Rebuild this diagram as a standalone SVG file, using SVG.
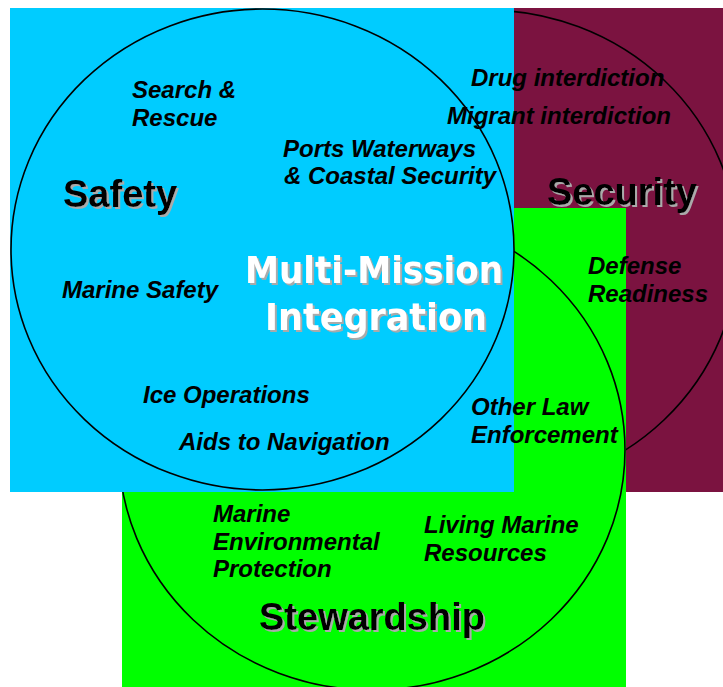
<svg xmlns="http://www.w3.org/2000/svg" width="723" height="687" viewBox="0 0 723 687">
<style>
.ring{fill:none;stroke:#000;stroke-width:1.6}
.item{font-family:"Liberation Sans",Arial,sans-serif;font-weight:bold;font-style:italic;font-size:24px;fill:#000}
.big{font-family:"Liberation Sans",Arial,sans-serif;font-weight:bold;font-size:38px;fill:#000;filter:url(#shadow)}
.mm{font-family:"DejaVu Sans",Verdana,sans-serif;font-weight:bold;font-size:38px;fill:#fff;filter:url(#shadow)}
</style>
<defs>
<filter id="shadow" x="-5%" y="-10%" width="115%" height="130%">
<feDropShadow dx="2" dy="2" stdDeviation="0" flood-color="#aaaaaa" flood-opacity="1"/>
</filter>
</defs>
<rect width="723" height="687" fill="#fff"/>
<g id="security-area">
<rect x="514" y="8" width="209" height="484" fill="#7b1340"/>
<ellipse class="ring" cx="486" cy="250" rx="252" ry="240"/>
</g>
<g id="stewardship-area">
<rect x="122" y="208" width="504" height="479" fill="#00ff00"/>
<ellipse class="ring" cx="372" cy="450" rx="253" ry="240"/>
</g>
<g id="safety-area">
<rect x="10" y="8" width="504" height="484" fill="#00ccff"/>
<ellipse class="ring" cx="262.5" cy="249.5" rx="251.5" ry="240.5"/>
</g>
<g id="safety-labels">
<text class="big" x="63" y="207">Safety</text>
<text class="item" x="132" y="98">Search &amp;</text>
<text class="item" x="132" y="126">Rescue</text>
<text class="item" x="62" y="298">Marine Safety</text>
<text class="item" x="143" y="403">Ice Operations</text>
<text class="item" x="179" y="450">Aids to Navigation</text>
<text class="item" x="283" y="157">Ports Waterways</text>
<text class="item" x="284" y="184">&amp; Coastal Security</text>
</g>
<g id="security-labels">
<text class="big" x="547" y="205">Security</text>
<text class="item" x="471" y="86">Drug interdiction</text>
<text class="item" x="447" y="124">Migrant interdiction</text>
<text class="item" x="588" y="274">Defense</text>
<text class="item" x="588" y="302">Readiness</text>
</g>
<g id="stewardship-labels">
<text class="big" x="259" y="630">Stewardship</text>
<text class="item" x="471" y="415">Other Law</text>
<text class="item" x="471" y="443">Enforcement</text>
<text class="item" x="213" y="522">Marine</text>
<text class="item" x="213" y="550">Environmental</text>
<text class="item" x="213" y="577">Protection</text>
<text class="item" x="424" y="533">Living Marine</text>
<text class="item" x="424" y="561">Resources</text>
</g>
<g id="integration-label">
<text class="mm" x="245" y="283" textLength="258" lengthAdjust="spacingAndGlyphs">Multi-Mission</text>
<text class="mm" x="265" y="330" textLength="222" lengthAdjust="spacingAndGlyphs">Integration</text>
</g>
</svg>
